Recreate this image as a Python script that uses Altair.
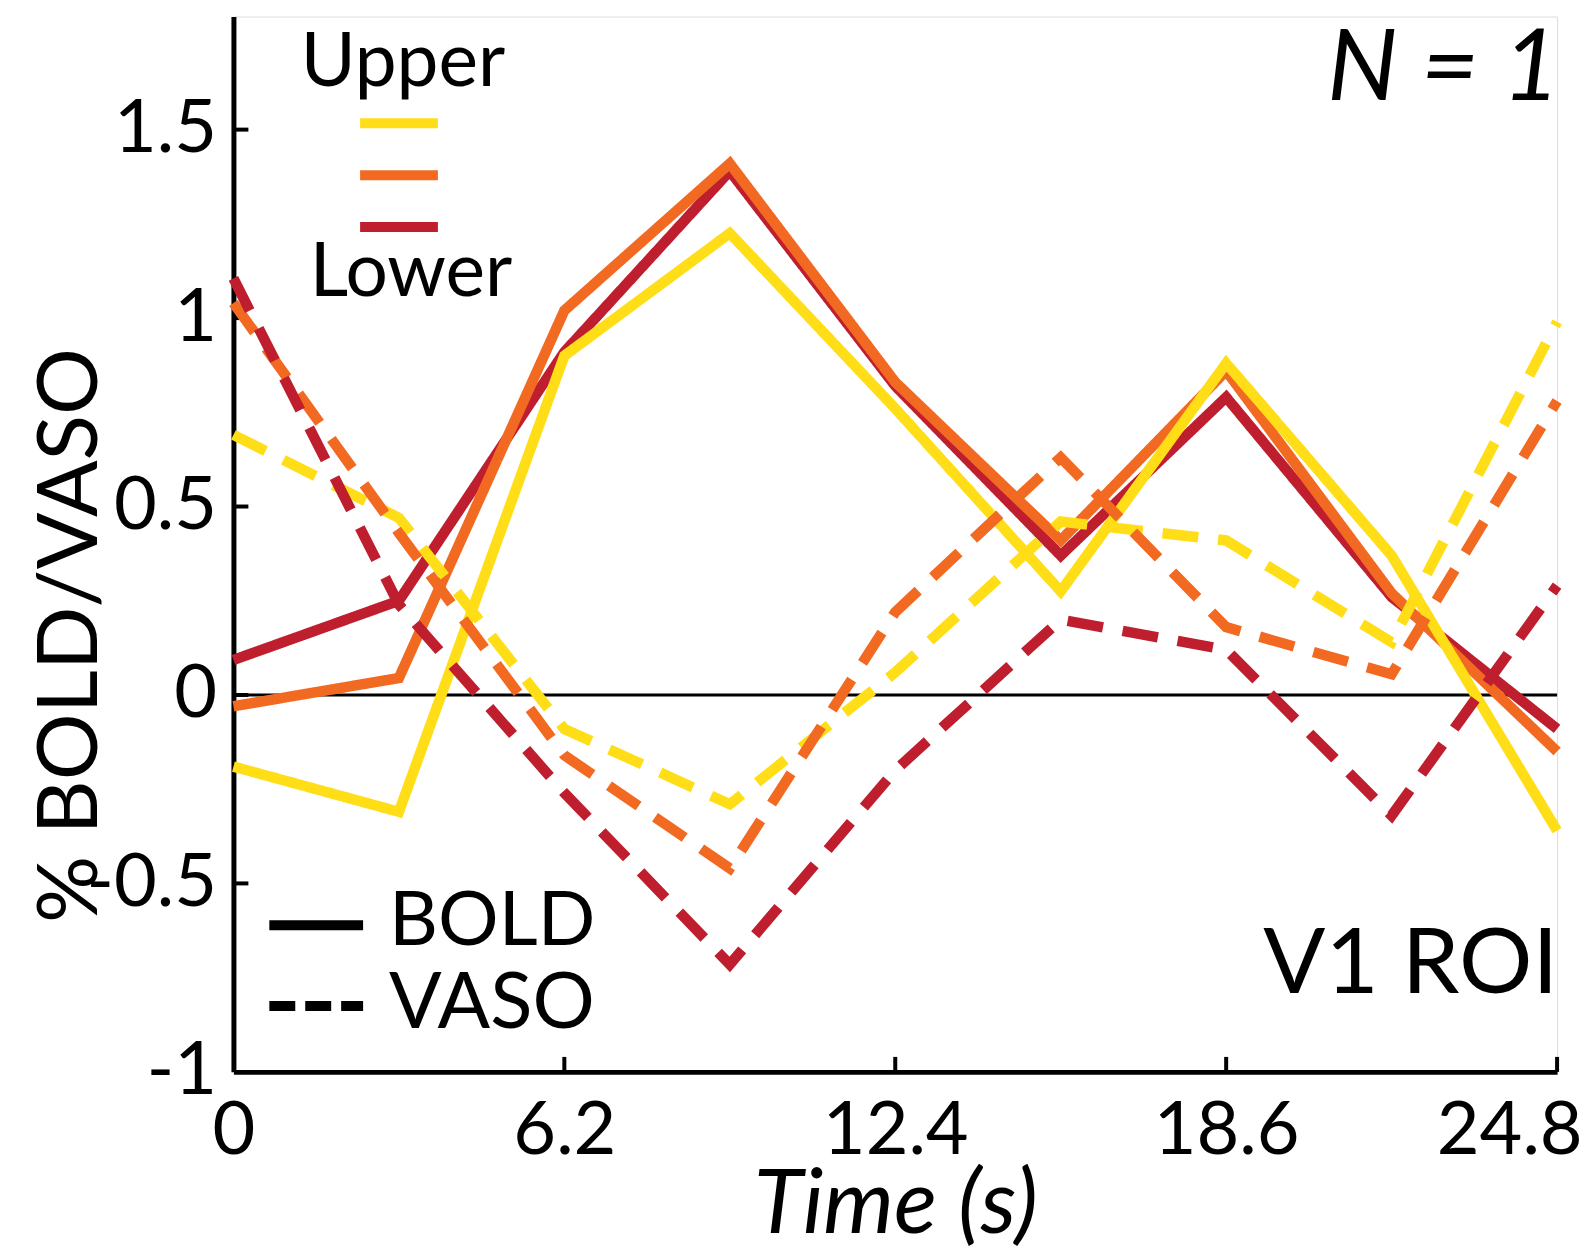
import altair as alt
import pandas as pd

# ---- data ----
time_s = [0, 3.1, 6.2, 9.3, 12.4, 15.5, 18.6, 21.7, 24.8]
bold_upper = [-0.19, -0.31, 0.90, 1.225, 0.76, 0.275, 0.88, 0.37, -0.36]
bold_middle = [-0.03, 0.045, 1.02, 1.41, 0.83, 0.41, 0.86, 0.27, -0.15]
bold_lower = [0.093, 0.25, 0.91, 1.39, 0.82, 0.37, 0.79, 0.26, -0.09]
vaso_upper = [0.69, 0.47, -0.09, -0.29, 0.06, 0.46, 0.41, 0.14, 0.99]
vaso_middle = [1.04, 0.43, -0.16, -0.46, 0.22, 0.63, 0.18, 0.055, 0.78]
vaso_lower = [1.105, 0.24, -0.26, -0.715, -0.2, 0.20, 0.12, -0.32, 0.29]

x_ticks = [0, 6.2, 12.4, 18.6, 24.8]
y_ticks = [-1, -0.5, 0, 0.5, 1, 1.5]
colors = {"Upper": "#FFDD17", "Middle": "#F26A22", "Lower": "#BE1E2D"}

W, H = 1327, 1058
FONT = "Lato"

rows = []
# draw order: solid red, orange, yellow, then dashed yellow, orange, red
for sig, layer, vals in [
    ("BOLD", "Lower", bold_lower),
    ("BOLD", "Middle", bold_middle),
    ("BOLD", "Upper", bold_upper),
    ("VASO", "Upper", vaso_upper),
    ("VASO", "Middle", vaso_middle),
    ("VASO", "Lower", vaso_lower),
]:
    for t, v in zip(time_s, vals):
        rows.append({"time": t, "value": v, "layer": layer, "signal": sig,
                     "key": sig + "_" + layer})
df = pd.DataFrame(rows)

xscale = alt.Scale(domain=[0, 24.8], nice=False, zero=False)
yscale = alt.Scale(domain=[-1, 1.8], nice=False, zero=False)
cscale = alt.Scale(domain=["Upper", "Middle", "Lower"],
                   range=[colors["Upper"], colors["Middle"], colors["Lower"]])
dscale = alt.Scale(domain=["BOLD", "VASO"], range=[[1, 0], [36, 20]])

lines = alt.Chart(df).mark_line(strokeWidth=10.5, strokeCap="butt", strokeJoin="miter",
                                clip=False).encode(
    x=alt.X("time:Q", scale=xscale,
            axis=alt.Axis(values=x_ticks, title="Time (s)", grid=False,
                          ticks=False, tickSize=0, domainColor="black",
                          domainWidth=5, labelFont=FONT, labelFontSize=74,
                          labelColor="black", labelPadding=82,
                          labelBaseline="alphabetic", labelFlush=False,
                          labelOffset={"condition": {"test": "datum.value == 24.8", "value": -48}, "value": 0},
                          labelExpr="toString(datum.value)",
                          titleFont=FONT, titleFontSize=90, titleFontStyle="italic",
                          titleFontWeight="normal", titleColor="black",
                          titleBaseline="alphabetic", titleY=161, titleX=W / 2)),
    y=alt.Y("value:Q", scale=yscale,
            axis=alt.Axis(values=y_ticks, title="% BOLD/VASO", grid=False,
                          ticks=False, tickSize=0, domainColor="black",
                          domainWidth=5, labelFont=FONT, labelFontSize=74,
                          labelColor="black", labelPadding=17,
                          labelExpr="toString(datum.value)",
                          titleFont=FONT, titleFontSize=84, titleFontWeight="normal",
                          titleColor="black", titleAngle=270, titleAlign="center",
                          titleBaseline="alphabetic", titleX=-137, titleY=620)),
    color=alt.Color("layer:N", scale=cscale, legend=None),
    strokeDash=alt.StrokeDash("signal:N", scale=dscale, legend=None),
    detail="key:N",
    order=alt.Order("time:Q"),
)

zero = alt.Chart(pd.DataFrame({"v": [0]})).mark_rule(color="black", strokeWidth=3).encode(
    y=alt.Y("v:Q", scale=yscale), x=alt.value(0), x2=alt.value(W))

xt = alt.Chart(pd.DataFrame({"t": x_ticks[1:]})).mark_rule(color="black", strokeWidth=4).encode(
    x=alt.X("t:Q", scale=xscale), y=alt.value(H), y2=alt.value(H - 15))
yt = alt.Chart(pd.DataFrame({"t": y_ticks[1:]})).mark_rule(color="black", strokeWidth=4).encode(
    y=alt.Y("t:Q", scale=yscale), x=alt.value(0), x2=alt.value(15))


def label(txt, x, y, size, align="left", style="normal"):
    return alt.Chart(pd.DataFrame({"s": [txt]})).mark_text(
        font=FONT, fontSize=size, align=align, baseline="alphabetic",
        fontStyle=style, color="black").encode(
        text="s:N", x=alt.value(x), y=alt.value(y))


def bar(layer, y):
    return alt.Chart(pd.DataFrame({"layer": [layer]})).mark_rule(
        strokeWidth=10, strokeCap="butt").encode(
        color=alt.Color("layer:N", scale=cscale, legend=None),
        x=alt.value(127), x2=alt.value(205), y=alt.value(y))


legend_bold = alt.Chart(pd.DataFrame({"signal": ["BOLD"]})).mark_rule(
    strokeWidth=10, color="black", strokeCap="butt").encode(
    x=alt.value(36), x2=alt.value(130), y=alt.value(911))
legend_vaso = alt.Chart(pd.DataFrame({"signal": ["VASO"]})).mark_rule(
    strokeWidth=10, color="black", strokeCap="butt", strokeDash=[26, 10]).encode(
    x=alt.value(36), x2=alt.value(130), y=alt.value(992))

chart = alt.layer(
    zero, xt, yt, lines,
    label("Upper", 170, 70, 75, align="center"),
    bar("Upper", 107), bar("Middle", 159), bar("Lower", 211),
    label("Lower", 178, 280, 75, align="center"),
    label("N = 1", 1330, 84, 100, align="right", style="italic"),
    label("V1 ROI", 1328, 979, 92, align="right"),
    legend_bold, legend_vaso,
    label("BOLD", 156, 931, 76),
    label("VASO", 156, 1014, 78),
).properties(
    width=W, height=H,
    autosize=alt.AutoSizeParams(type="none"),
    padding={"left": 226, "top": 7, "right": 30, "bottom": 173},
).configure_view(stroke=None).configure(background="white")

chart.save("out.html", embed_options={"renderer": "svg", "actions": False})
